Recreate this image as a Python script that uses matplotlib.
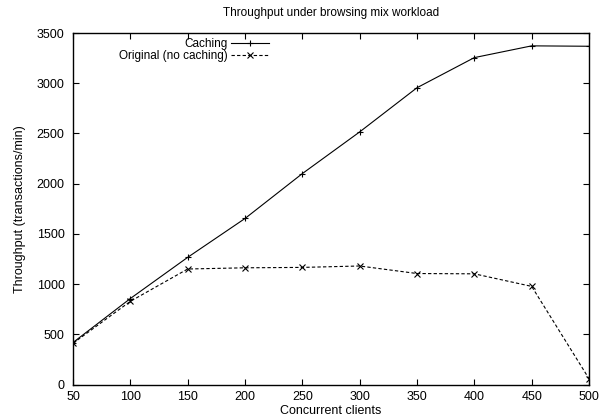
import numpy as np
from matplotlib import pyplot as plt

# data
clients = [50, 100, 150, 200, 250, 300, 350, 400, 450, 500]
caching = [418, 856, 1266, 1653, 2100, 2515, 2955, 3255, 3372, 3368]
original = [410, 828, 1150, 1162, 1166, 1180, 1105, 1102, 977, 58]

x_ticks = [50, 100, 150, 200, 250, 300, 350, 400, 450, 500]
y_ticks = [0, 500, 1000, 1500, 2000, 2500, 3000, 3500]

plt.rcParams['font.family'] = ['Liberation Sans', 'DejaVu Sans']
plt.rcParams['font.size'] = 9

fig = plt.figure(figsize=(6.03, 4.19), dpi=100)
ax = fig.add_axes([73 / 603, 1 - 384.5 / 419, (589 - 73) / 603, (384.5 - 33) / 419])

# plot both series
ax.plot(clients, caching, color='black', linewidth=0.8, marker='+',
        markersize=5, markeredgewidth=0.8, label='Caching')
ax.plot(clients, original, color='black', linewidth=0.8, linestyle=(0, (3, 2)),
        marker='x', markersize=4, markeredgewidth=0.8, label='Original (no caching)')

ax.set_xlim(50, 500)
ax.set_ylim(0, 3500)
ax.set_xticks(x_ticks)
ax.set_yticks(y_ticks)
ax.tick_params(direction='in', length=4, width=0.8, top=True, right=True, labelsize=9)
ax.tick_params(axis='x', pad=5)
ax.tick_params(axis='y', pad=6)
for sp in ax.spines.values():
    sp.set_linewidth(1.0)

ax.set_title('Throughput under browsing mix workload', fontsize=8.5, pad=12)
ax.set_xlabel('Concurrent clients', fontsize=9, labelpad=1)
ax.set_ylabel('Throughput (transactions/min)', fontsize=9, labelpad=8)

# gnuplot-style key: text right-aligned, sample on the right
ax.legend(loc='upper right', bbox_to_anchor=(269 / 603, 1 - 38 / 419),
          bbox_transform=fig.transFigure, frameon=False, markerfirst=False,
          handlelength=3.2, handletextpad=0.3, borderpad=0, borderaxespad=0,
          labelspacing=0.0, fontsize=8.5)

fig.savefig('out.png', dpi=100)
